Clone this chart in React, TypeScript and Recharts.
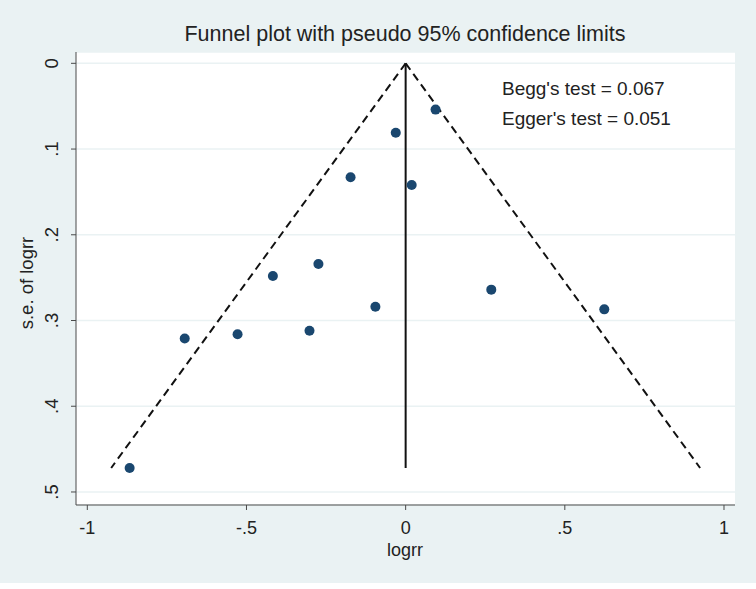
import React from 'react';
import {
  ScatterChart,
  Scatter,
  XAxis,
  YAxis,
  CartesianGrid,
} from 'recharts';

// study estimates
const logrr = [0.094, -0.031, -0.173, 0.019, -0.417, -0.274, 0.269, -0.095, 0.624, -0.528, -0.302, -0.694, -0.867];
const seLogrr = [0.054, 0.081, 0.133, 0.142, 0.248, 0.234, 0.264, 0.284, 0.287, 0.316, 0.312, 0.321, 0.472];

// pseudo 95% limits and the pooled line
const funnelLeftX = [0, -0.925];
const funnelRightX = [0, 0.925];
const funnelSe = [0, 0.472];
const centerX = [0, 0];

const xTicks = [-1, -0.5, 0, 0.5, 1];
const yTicks = [0, 0.1, 0.2, 0.3, 0.4, 0.5];

const title = 'Funnel plot with pseudo 95% confidence limits';
const notes = ["Begg's test = 0.067", "Egger's test = 0.051"];

const points = logrr.map((x, i) => ({ x, se: seLogrr[i] }));
const toLine = (xs: number[]) => xs.map((x, i) => ({ x, se: funnelSe[i] }));

const FONT = '"Liberation Sans", Arial, sans-serif';
const BG = '#eaf2f3';
const AXIS = '#4a4a4a';

const fmt = (v: number) => (v === 0 ? '0' : String(v).replace('0.', '.'));

const XTick = (props: any) => {
  const { x, y, payload } = props;
  return (
    <text x={x} y={y + 22} textAnchor="middle" fontSize={18} fill="#222" fontFamily={FONT}>
      {fmt(payload.value)}
    </text>
  );
};

const YTick = (props: any) => {
  const { x, y, payload } = props;
  const bx = x - 11;
  return (
    <text
      x={bx}
      y={y}
      transform={`rotate(-90, ${bx}, ${y})`}
      textAnchor="middle"
      fontSize={18.5}
      fill="#222"
      fontFamily={FONT}
    >
      {fmt(payload.value)}
    </text>
  );
};

const Nothing = () => <g />;
const Dot = (props: any) => <circle cx={props.cx} cy={props.cy} r={5} fill="#1a476f" />;

export default function App() {
  return (
    <div style={{ position: 'absolute', left: 0, top: 0, width: 756, height: 589, background: '#fff' }}>
      <div style={{ position: 'absolute', left: 0, top: 0, width: 756, height: 583, background: BG }}>
        <ScatterChart width={756} height={583} margin={{ top: 52, right: 21, bottom: 0, left: 0 }}>
          <CartesianGrid vertical={false} stroke={BG} strokeWidth={1.5} fill="#fff" />
          <XAxis
            type="number"
            dataKey="x"
            domain={[-1.0355, 1.0346]}
            ticks={xTicks}
            allowDataOverflow
            height={78}
            stroke={AXIS}
            tickSize={5}
            tick={<XTick />}
          />
          <YAxis
            type="number"
            dataKey="se"
            domain={[-0.0132, 0.5152]}
            reversed
            ticks={yTicks}
            allowDataOverflow
            width={76}
            stroke={AXIS}
            tickSize={5}
            tick={<YTick />}
          />
          <Scatter
            data={toLine(funnelLeftX)}
            line={{ stroke: '#111', strokeWidth: 2, strokeDasharray: '8 5' }}
            shape={<Nothing />}
            isAnimationActive={false}
          />
          <Scatter
            data={toLine(funnelRightX)}
            line={{ stroke: '#111', strokeWidth: 2, strokeDasharray: '8 5' }}
            shape={<Nothing />}
            isAnimationActive={false}
          />
          <Scatter
            data={toLine(centerX)}
            line={{ stroke: '#111', strokeWidth: 2 }}
            shape={<Nothing />}
            isAnimationActive={false}
          />
          <Scatter data={points} shape={<Dot />} isAnimationActive={false} />
        </ScatterChart>
      </div>
      <svg
        width={756}
        height={589}
        style={{ position: 'absolute', left: 0, top: 0, pointerEvents: 'none' }}
        fontFamily={FONT}
      >
        <text x={405} y={41} textAnchor="middle" fontSize={21.5} fill="#222">
          {title}
        </text>
        {notes.map((t, i) => (
          <text key={t} x={502} y={95 + i * 30} fontSize={19} fill="#222">
            {t}
          </text>
        ))}
        <text x={405} y={556} textAnchor="middle" fontSize={18} fill="#222">
          logrr
        </text>
        <text x={33} y={283} transform="rotate(-90, 33, 283)" textAnchor="middle" fontSize={18.5} fill="#222">
          s.e. of logrr
        </text>
      </svg>
    </div>
  );
}
